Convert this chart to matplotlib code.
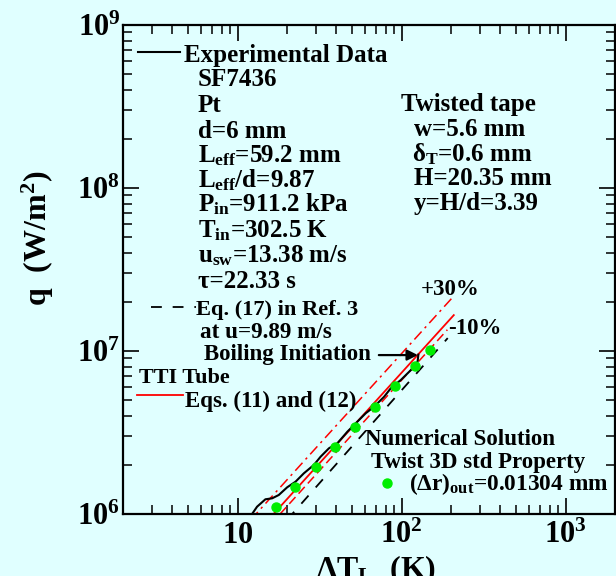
import matplotlib
matplotlib.use("Agg")
import matplotlib.pyplot as plt
from matplotlib.lines import Line2D
from matplotlib.ticker import FixedLocator, FixedFormatter, LogLocator, NullFormatter

# ---------------- data ----------------
exp_dT = [11.9, 12.13, 13.14, 14.77, 16.24, 17.82, 20.05, 22.54, 25.34, 29.17, 32.05,
          36.04, 40.55, 46.7, 52.5, 60.4, 67.9, 78.2, 85.9, 98.9, 113.9, 125.1, 126.5]
exp_q = [0.97e6, 0.986e6, 1.109e6, 1.231e6, 1.248e6, 1.308e6, 1.458e6, 1.578e6, 1.777e6,
         2.0e6, 2.246e6, 2.53e6, 2.715e6, 3.20e6, 3.60e6, 4.15e6, 4.55e6, 5.24e6,
         5.91e6, 6.64e6, 7.64e6, 8.60e6, 9.5e6]

num_dT = [17.25, 22.5, 29.9, 39.0, 51.7, 68.6, 91.3, 121.0, 149.0]
num_q = [1.109e6, 1.47e6, 1.95e6, 2.59e6, 3.43e6, 4.55e6, 6.10e6, 8.09e6, 1.014e7]

eq11_dT = [12.0, 208.0]
eq11_q = [7.0e5, 1.66e7]
plus30_dT = [12.0, 206.0]
plus30_q = [9.2e5, 2.15e7]
minus10_dT = [14.0, 190.0]
minus10_q = [7.5e5, 1.35e7]
eq17_dT = [20.0, 191.0]
eq17_q = [9.2e5, 1.2e7]

boil_dT, boil_q = 125.7, 9.44e6
boil_tail_dT = 72.6

x_ticks = [10, 100, 1000]
x_tick_labels = [r"$10$", r"$10^{2}$", r"$10^{3}$"]
y_ticks = [1e6, 1e7, 1e8, 1e9]
y_tick_labels = [r"$10^{6}$", r"$10^{7}$", r"$10^{8}$", r"$10^{9}$"]

# ---------------- style ----------------
BG = "#E0FFFF"
W, H = 616, 576
plt.rcParams["font.family"] = ["Liberation Serif", "DejaVu Serif"]
plt.rcParams["font.weight"] = "bold"
plt.rcParams["axes.labelweight"] = "bold"
plt.rcParams["mathtext.fontset"] = "custom"
plt.rcParams["mathtext.rm"] = "Liberation Serif:bold"
plt.rcParams["mathtext.it"] = "Liberation Serif:bold"
plt.rcParams["mathtext.bf"] = "Liberation Serif:bold"
plt.rcParams["mathtext.sf"] = "Liberation Serif:bold"

fig = plt.figure(figsize=(W / 100, H / 100), dpi=100, facecolor=BG)
ax = fig.add_axes([123 / W, 1 - 514 / H, (615 - 123) / W, (514 - 25) / H])
ax.set_facecolor(BG)
ax.set_xscale("log")
ax.set_yscale("log")
ax.set_xlim(2, 2000)
ax.set_ylim(1e6, 1e9)

# lines
ax.plot(plus30_dT, plus30_q, color="red", lw=1.1, dashes=(7, 3, 1.5, 3))
ax.plot(eq11_dT, eq11_q, color="red", lw=1.3)
ax.plot(minus10_dT, minus10_q, color="red", lw=1.1, dashes=(6, 3))
ax.plot(eq17_dT, eq17_q, color="black", lw=1.3, dashes=(6, 6))
ax.plot(exp_dT, exp_q, color="black", lw=1.5)
ax.plot(num_dT, num_q, ls="none", marker="o", ms=6.5, mfc="#00EE00", mec="#00EE00")

ax.annotate("", xy=(boil_dT, boil_q), xytext=(boil_tail_dT, boil_q),
            arrowprops=dict(arrowstyle="-|>", color="black", lw=1.6, mutation_scale=16,
                            shrinkA=0, shrinkB=0))

# ticks
for sp in ax.spines.values():
    sp.set_linewidth(1.6)
ax.xaxis.set_major_locator(FixedLocator(x_ticks))
ax.xaxis.set_major_formatter(FixedFormatter(x_tick_labels))
ax.yaxis.set_major_locator(FixedLocator(y_ticks))
ax.yaxis.set_major_formatter(FixedFormatter(y_tick_labels))
ax.xaxis.set_minor_locator(LogLocator(base=10, subs=range(2, 10), numticks=20))
ax.yaxis.set_minor_locator(LogLocator(base=10, subs=range(2, 10), numticks=20))
ax.xaxis.set_minor_formatter(NullFormatter())
ax.yaxis.set_minor_formatter(NullFormatter())
ax.tick_params(which="both", direction="in", top=True, right=True, colors="black")
ax.tick_params(which="major", length=11.5, width=1.2, labelsize=22)
ax.tick_params(which="minor", length=6.5, width=1.1)
ax.tick_params(axis="x", which="major", pad=21)
ax.tick_params(axis="y", which="major", pad=2)
for t in ax.xaxis.get_major_ticks():
    t.label1.set_verticalalignment("baseline")

ax.set_xlabel(r"$\Delta$T$_{L}$  (K)", fontsize=23, fontweight="bold")
ax.xaxis.set_label_coords((376 - 123) / 492, (514 - 553) / 489)
ax.set_ylabel(r"q  (W/m$^{2}$)", fontsize=23, fontweight="bold")
ax.yaxis.set_label_coords((38 - 123) / 492, (514 - 238) / 489)
ax.yaxis.label.set_verticalalignment("center")

# ---------------- annotation texts ----------------
FS = 18
FS2 = 16.5


def T(x, y, s, fs=FS, **kw):
    fig.text(x / W, 1 - y / H, s, ha="left", va="baseline", fontsize=fs,
             fontweight="bold", **kw)


def L(x1, x2, y, **kw):
    fig.add_artist(Line2D([x1 / W, x2 / W], [1 - y / H, 1 - y / H],
                          transform=fig.transFigure, **kw))


L(138, 180, 52, color="black", lw=1.5)
T(184, 62, "Experimental Data")
T(198, 86, "SF7436")
T(198, 112, "Pt")
T(198, 138, "d=6 mm")
T(198, 162, r"L$_{eff}$=59.2 mm")
T(198, 187, r"L$_{eff}$/d=9.87")
T(198, 211, r"P$_{in}$=911.2 kPa")
T(198, 237, r"T$_{in}$=302.5 K")
T(198, 262, r"u$_{sw}$=13.38 m/s")
T(198, 288, "τ=22.33 s")
L(151, 196, 307, color="black", lw=1.3, dashes=(6, 6))
T(196, 315, "Eq. (17) in Ref. 3", fs=16.2)
T(200, 338, "at u=9.89 m/s", fs=16.7)
T(204, 360, "Boiling Initiation", fs=FS2)
T(139, 383, "TTI Tube", fs=16)
L(137, 183, 395, color="red", lw=1.3)
T(185, 407, "Eqs. (11) and (12)", fs=FS2)

T(401, 111, "Twisted tape")
T(414, 136, "w=5.6 mm")
T(412, 161, r"δ$_{T}$=0.6 mm")
T(414, 185, "H=20.35 mm")
T(414, 210, "y=H/d=3.39")

T(421, 295, "+30%", fs=FS2)
T(448, 334, "-10%", fs=FS2)

T(365, 445, "Numerical Solution", fs=FS2)
T(371, 468, "Twist 3D std Property", fs=FS2)
fig.add_artist(Line2D([387 / W], [1 - 483 / H], transform=fig.transFigure, ls="none",
                      marker="o", ms=6.5, mfc="#00EE00", mec="#00EE00"))
T(409, 490, r"($\Delta$r)$_{out}$=0.01304 mm", fs=16.8)

fig.savefig("out.png", dpi=100, facecolor=BG)
